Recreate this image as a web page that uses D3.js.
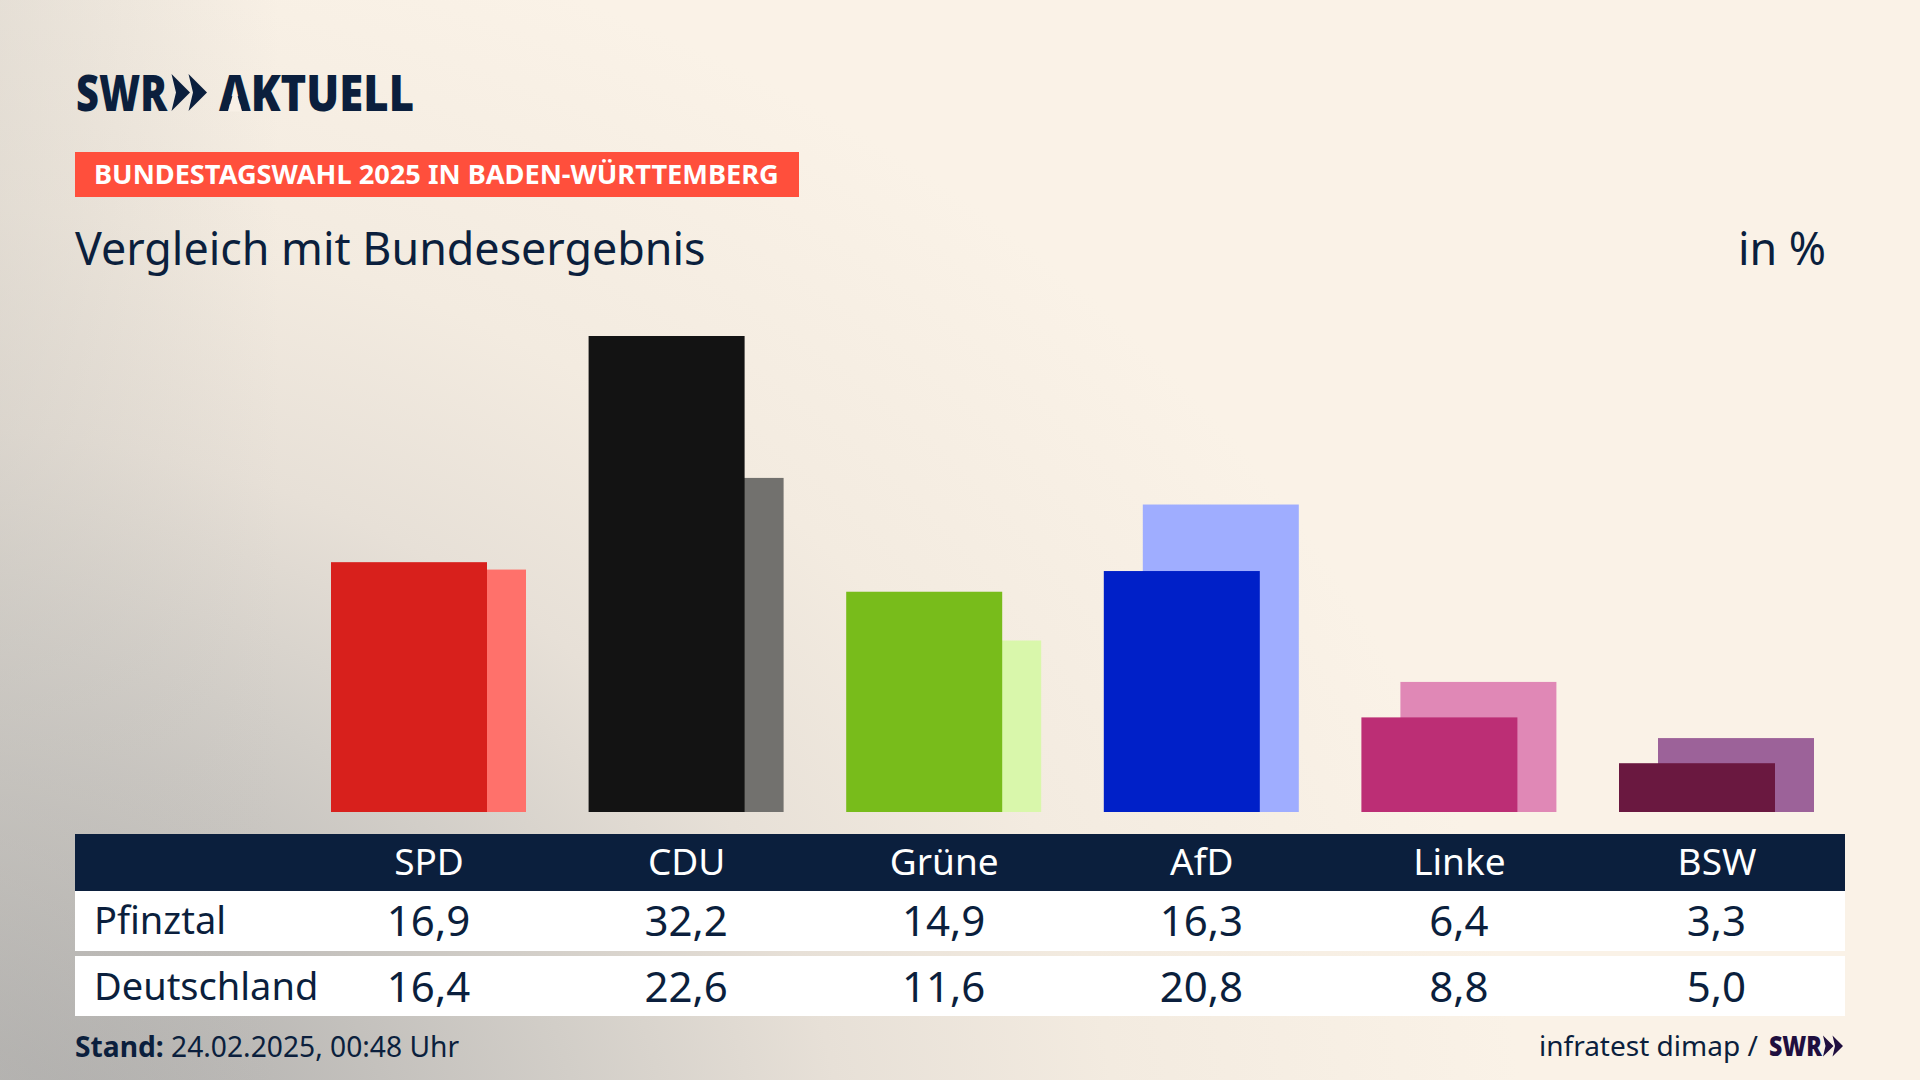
<!DOCTYPE html>
<html>
<head>
<meta charset="utf-8">
<script src="https://cdnjs.cloudflare.com/ajax/libs/d3/7.8.5/d3.min.js"></script>
<style>
    html, body { margin: 0; padding: 0; background: #faf2e7; overflow: hidden; }
    text { font-family: "Noto Sans", sans-serif; fill: #0b1f3d; }
</style>
</head>
<body>
<div class="chart"></div>
<script>
// data
var parties = ["SPD", "CDU", "Grüne", "AfD", "Linke", "BSW"];
var pfinztal = [16.9, 32.2, 14.9, 16.3, 6.4, 3.3];
var deutschland = [16.4, 22.6, 11.6, 20.8, 8.8, 5.0];
var darkColors = ["#d8201c", "#131313", "#78bc1b", "#0020c8", "#bc2e75", "#6a1840"];
var lightColors = ["#ff716b", "#72716e", "#d9f7ab", "#9fadff", "#e088b6", "#9c6299"];
var rowNames = ["Pfinztal", "Deutschland"];

var svgWidth = 1920;
var svgHeight = 1080;
var navy = "#0b1f3d";

var svg = d3.select(".chart")
    .append("svg")
    .attr("width", svgWidth)
    .attr("height", svgHeight)
    .style("display", "block");

// background: cream with grey coming in from the lower left
var defs = svg.append("defs");
var glow = defs.append("radialGradient")
    .attr("id", "glow")
    .attr("gradientUnits", "userSpaceOnUse")
    .attr("cx", 0).attr("cy", 0).attr("r", 1)
    .attr("gradientTransform", "translate(-100, 1180) scale(1625, 1300)");
glow.append("stop").attr("offset", "0").attr("stop-color", "#a6a6a6");
glow.append("stop").attr("offset", "0.12").attr("stop-color", "#adacab");
glow.append("stop").attr("offset", "0.42").attr("stop-color", "#d2cec8");
glow.append("stop").attr("offset", "0.58").attr("stop-color", "#e7e0d7");
glow.append("stop").attr("offset", "0.75").attr("stop-color", "#f3ebe0");
glow.append("stop").attr("offset", "1").attr("stop-color", "#faf2e7");

// grey also runs up the left edge
var edge = defs.append("linearGradient").attr("id", "edge");
edge.append("stop").attr("offset", "0").attr("stop-color", "#c4c1bb").attr("stop-opacity", 0.35);
edge.append("stop").attr("offset", "1").attr("stop-color", "#c4c1bb").attr("stop-opacity", 0);

svg.append("rect").attr("width", svgWidth).attr("height", svgHeight).attr("fill", "#faf2e7");
svg.append("rect").attr("width", svgWidth).attr("height", svgHeight).attr("fill", "url(#glow)");
svg.append("rect").attr("width", 280).attr("height", svgHeight).attr("fill", "url(#edge)");

// scales
var xScale = d3.scalePoint().domain(parties).range([428.5, 1716.5]);
var yScale = d3.scaleLinear().domain([0, 32.2]).range([812, 336]);
var barWidth = 156;
var barShift = 39;

var bars = svg.append("g");

// national result sits behind, shifted right
bars.selectAll(".national")
    .data(parties)
    .enter()
    .append("rect")
    .attr("class", "national")
    .attr("x", d => xScale(d) - barWidth / 2 + barShift / 2)
    .attr("width", barWidth)
    .attr("y", (d, i) => yScale(deutschland[i]))
    .attr("height", (d, i) => yScale(0) - yScale(deutschland[i]))
    .attr("fill", (d, i) => lightColors[i]);

bars.selectAll(".local")
    .data(parties)
    .enter()
    .append("rect")
    .attr("class", "local")
    .attr("x", d => xScale(d) - barWidth / 2 - barShift / 2)
    .attr("width", barWidth)
    .attr("y", (d, i) => yScale(pfinztal[i]))
    .attr("height", (d, i) => yScale(0) - yScale(pfinztal[i]))
    .attr("fill", (d, i) => darkColors[i]);

// table
svg.append("rect").attr("x", 75).attr("y", 834).attr("width", 1770).attr("height", 57).attr("fill", navy);
svg.append("rect").attr("x", 75).attr("y", 891).attr("width", 1770).attr("height", 60).attr("fill", "#fff");
svg.append("rect").attr("x", 75).attr("y", 956).attr("width", 1770).attr("height", 60).attr("fill", "#fff");

var headerAxis = d3.axisBottom(xScale).tickSize(0).tickPadding(0);
var headerGroup = svg.append("g")
    .attr("transform", "translate(0, 848)")
    .call(headerAxis);
headerGroup.select(".domain").remove();
headerGroup.selectAll("text")
    .attr("dy", null)
    .attr("y", 27)
    .style("font-family", "\"Noto Sans\", sans-serif")
    .style("font-size", "37px")
    .style("fill", "#fff");

function formatValue(v) {
    return v.toFixed(1).replace(".", ",");
}

[pfinztal, deutschland].forEach(function (values, row) {
    var baseline = [936, 1002][row];
    svg.append("text")
        .attr("x", 94)
        .attr("y", baseline - 2)
        .attr("font-size", 38)
        .text(rowNames[row]);

    svg.selectAll(".val" + row)
        .data(values)
        .enter()
        .append("text")
        .attr("class", "val" + row)
        .attr("x", (d, i) => xScale(parties[i]))
        .attr("y", baseline)
        .attr("text-anchor", "middle")
        .attr("font-size", 42)
        .text(formatValue);
});

// logo
var logo = svg.append("g");
logo.append("text").attr("x", 76).attr("y", 110.5).attr("font-size", 50).attr("font-weight", 900)
    .attr("textLength", 91).attr("lengthAdjust", "spacingAndGlyphs").text("SWR");
logo.append("path").attr("fill", navy)
    .attr("d", "M171.5,74 L190,92.5 L171.5,111 L176,92.5 Z M188.5,74 L207,92.5 L188.5,111 L193,92.5 Z");
logo.append("text").attr("x", 219).attr("y", 110.5).attr("font-size", 50).attr("font-weight", 900)
    .attr("textLength", 195).attr("lengthAdjust", "spacingAndGlyphs").text("AKTUELL");
// the logo's A has no crossbar
logo.append("path").attr("fill", "#f8f0e6")
    .attr("d", "M235,87 L242,111.5 L228,111.5 Z");

// banner, titles, footer
svg.append("rect").attr("x", 75).attr("y", 152).attr("width", 724).attr("height", 45).attr("fill", "#ff4f3c");
svg.append("text").attr("x", 94).attr("y", 184).attr("font-size", 27.2).attr("font-weight", 700)
    .style("fill", "#fff").text("BUNDESTAGSWAHL 2025 IN BADEN-WÜRTTEMBERG");
svg.append("text").attr("x", 75).attr("y", 265).attr("font-size", 44.8).text("Vergleich mit Bundesergebnis");
svg.append("text").attr("x", 1826).attr("y", 265).attr("font-size", 44.8).attr("text-anchor", "end").text("in %");

var stand = svg.append("text").attr("x", 75).attr("y", 1057).attr("font-size", 28.2);
stand.append("tspan").attr("font-weight", 700).text("Stand:");
stand.append("tspan").text(" 24.02.2025, 00:48 Uhr");

svg.append("text").attr("x", 1539).attr("y", 1056).attr("font-size", 28).text("infratest dimap /");
svg.append("text").attr("x", 1769).attr("y", 1056).attr("font-size", 29).attr("font-weight", 900)
    .attr("textLength", 53).attr("lengthAdjust", "spacingAndGlyphs").style("fill", "#1f0f3f").text("SWR");
svg.append("path").attr("fill", "#1f0f3f")
    .attr("d", "M1823,1035.5 L1833.5,1046 L1823,1056.5 L1825.5,1046 Z M1832.5,1035.5 L1843,1046 L1832.5,1056.5 L1835,1046 Z");
</script>
</body>
</html>
